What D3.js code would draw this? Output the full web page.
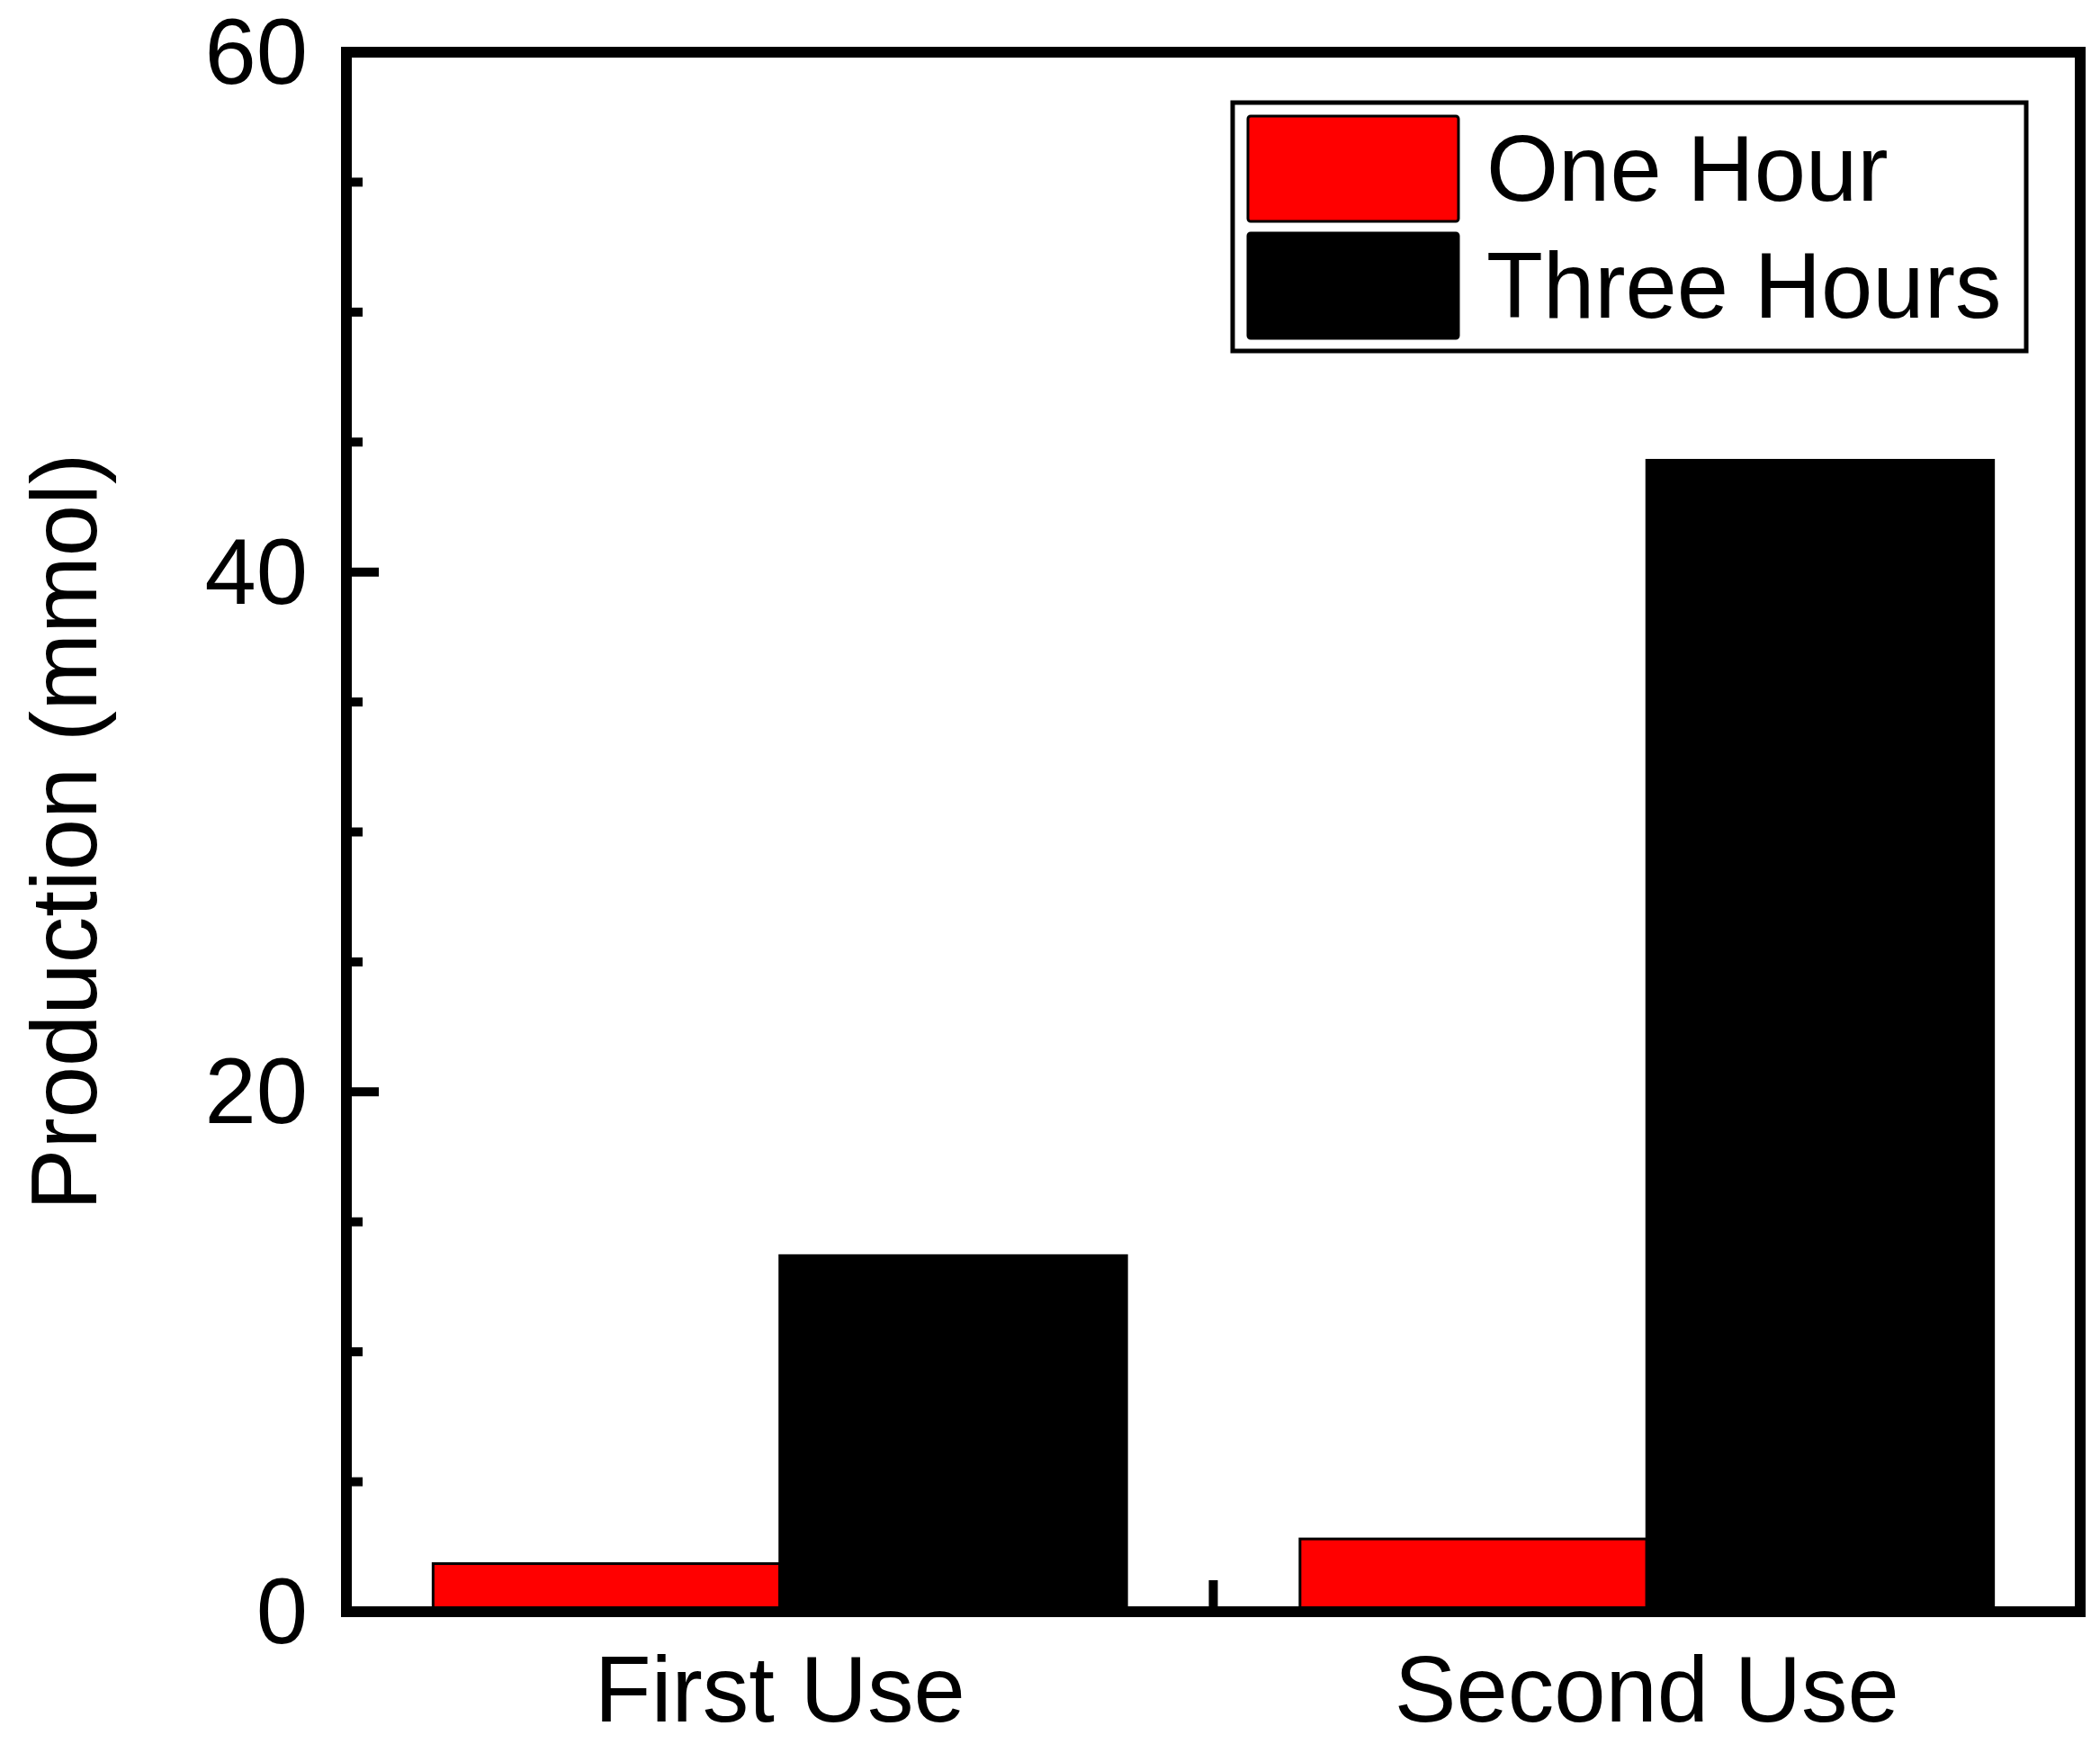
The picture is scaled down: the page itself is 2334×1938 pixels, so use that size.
<!DOCTYPE html>
<html>
<head>
<meta charset="utf-8">
<script src="https://cdn.jsdelivr.net/npm/d3@7"></script>
<style>
  body { margin: 0; background: #fff; }
  text { font-family: "Liberation Sans", Arial, sans-serif; }
</style>
</head>
<body>
<div id="chart"></div>
<script>
// data
var categories = ["First Use", "Second Use"]
var seriesNames = ["One Hour", "Three Hours"]
var seriesColors = ["#ff0000", "#000000"]
var oneHour = [1.85, 2.8]
var threeHours = [13.7, 44.3]
var yTicks = [0, 20, 40, 60]
var yMinorTicks = [5, 10, 15, 25, 30, 35, 45, 50, 55]

var width = 2334
var height = 1938
var fontSize = 103

var svg = d3.select("#chart")
            .append("svg")
            .attr("width", width)
            .attr("height", height)

var x = d3.scaleLinear().domain([0.5, 2.5]).range([385, 2312])
var y = d3.scaleLinear().domain([0, 60]).range([1791, 58])

var barW = 0.4

// bars
var series = [oneHour, threeHours]
series.forEach(function(vals, s){
    svg.selectAll(".bar" + s)
        .data(vals)
        .enter()
        .append("rect")
        .attr("x", function(d, i){ return s == 0 ? x(i + 1 - barW) : x(i + 1) })
        .attr("width", function(d, i){ return x(i + 1 + barW) - x(i + 1) })
        .attr("y", function(d){ return y(d) })
        .attr("height", function(d){ return y(0) - y(d) })
        .attr("fill", seriesColors[s])
        .attr("stroke", "#000")
        .attr("stroke-width", 3)
})

// y axis ticks (inward)
svg.selectAll(".ymajor")
    .data(yTicks)
    .enter()
    .append("line")
    .attr("x1", x(0.5))
    .attr("x2", x(0.5) + 36)
    .attr("y1", function(d){ return y(d) })
    .attr("y2", function(d){ return y(d) })
    .attr("stroke", "#000")
    .attr("stroke-width", 10)

svg.selectAll(".yminor")
    .data(yMinorTicks)
    .enter()
    .append("line")
    .attr("x1", x(0.5))
    .attr("x2", x(0.5) + 18)
    .attr("y1", function(d){ return y(d) })
    .attr("y2", function(d){ return y(d) })
    .attr("stroke", "#000")
    .attr("stroke-width", 10)

svg.selectAll(".ylab")
    .data(yTicks)
    .enter()
    .append("text")
    .attr("x", 342)
    .attr("y", function(d){ return y(d) })
    .attr("dy", "0.34em")
    .attr("text-anchor", "end")
    .attr("font-size", fontSize)
    .text(function(d){ return d })

// x axis tick between the groups
svg.append("line")
    .attr("x1", x(1.5))
    .attr("x2", x(1.5))
    .attr("y1", y(0))
    .attr("y2", y(0) - 35)
    .attr("stroke", "#000")
    .attr("stroke-width", 10)

svg.selectAll(".xlab")
    .data(categories)
    .enter()
    .append("text")
    .attr("x", function(d, i){ return x(i + 1) })
    .attr("y", 1913)
    .attr("text-anchor", "middle")
    .attr("font-size", fontSize)
    .text(function(d){ return d })

// frame
svg.append("rect")
    .attr("x", x(0.5))
    .attr("y", y(60))
    .attr("width", x(2.5) - x(0.5))
    .attr("height", y(0) - y(60))
    .attr("fill", "none")
    .attr("stroke", "#000")
    .attr("stroke-width", 12)

// y axis title
svg.append("text")
    .attr("transform", "translate(107," + (y(0) + y(60)) / 2 + ") rotate(-90)")
    .attr("text-anchor", "middle")
    .attr("font-size", fontSize)
    .text("Production (mmol)")

// legend
var legend = svg.append("g")
legend.append("rect")
    .attr("x", 1370)
    .attr("y", 114)
    .attr("width", 882)
    .attr("height", 276)
    .attr("fill", "#fff")
    .attr("stroke", "#000")
    .attr("stroke-width", 5)

var rowY = [129, 259]
seriesNames.forEach(function(name, i){
    legend.append("rect")
        .attr("x", 1387)
        .attr("y", rowY[i])
        .attr("width", 234)
        .attr("height", 117)
        .attr("rx", 3)
        .attr("fill", seriesColors[i])
        .attr("stroke", "#000")
        .attr("stroke-width", 3)
    legend.append("text")
        .attr("x", 1652)
        .attr("y", rowY[i] + 94)
        .attr("font-size", fontSize)
        .text(name)
})
</script>
</body>
</html>
